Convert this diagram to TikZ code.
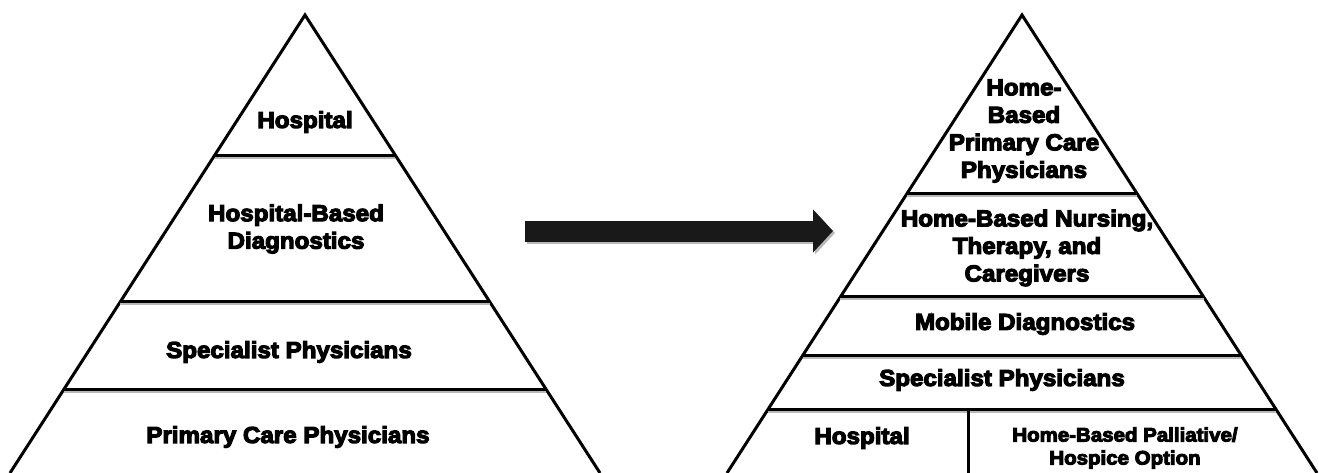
\documentclass[tikz,border=0pt]{standalone}
\usepackage{fontspec}
\setmainfont{Liberation Sans}[BoldFeatures={FakeBold=5,FakeStretch=1.05}]
\usetikzlibrary{calc,arrows.meta}

\begin{document}
\begin{tikzpicture}[x=1pt, y=-1pt,
        side/.style={draw, line width=3pt, line join=miter, miter limit=20},
        divider/.style={draw, line width=3pt,
            preaction={draw, gray!55, line width=3pt, transform canvas={yshift=-2pt}}},
        level/.style={font=\bfseries\fontsize{23}{27.5}\selectfont, align=center, inner sep=0pt},
        smalllevel/.style={font=\bfseries\fontsize{19.5}{23}\selectfont, align=center, inner sep=0pt}
    ]
        \useasboundingbox (0,0) rectangle (1319,473);

        % Left pyramid
        \coordinate (lA) at (305,15);
        \coordinate (lL) at (10,473);
        \coordinate (lR) at (600,473);
        \draw[side] (lL) -- (lA) -- (lR);
        \foreach \t in {0.3057,0.6266,0.8166}
            \draw[divider] ($(lA)!\t!(lL)$) -- ($(lA)!\t!(lR)$);

        \node[level] (lhosp) at (305,122) {Hospital};
        \node[level] (ldiag) at (296,229) {Hospital-Based\\Diagnostics};
        \node[level] (lspec) at (289,352) {Specialist Physicians};
        \node[level] (lprim) at (288,437) {Primary Care Physicians};

        % Arrow
        \coordinate (aS) at (525,231);
        \coordinate (aE) at (833,231);
        \draw[gray!55, line width=21pt, -{Triangle[length=20pt,width=42pt]}]
            ([shift={(2,2)}]aS) -- ([shift={(2,2)}]aE);
        \draw[black!90, line width=21pt, -{Triangle[length=20pt,width=42pt]}] (aS) -- (aE);

        % Right pyramid
        \coordinate (rA) at (1022,15);
        \coordinate (rL) at (727,473);
        \coordinate (rR) at (1317,473);
        \draw[side] (rL) -- (rA) -- (rR);
        \foreach \t in {0.3908,0.6157,0.7424,0.8624}
            \draw[divider] ($(rA)!\t!(rL)$) -- ($(rA)!\t!(rR)$);
        \coordinate (vT) at (968,410);
        \coordinate (vB) at (968,473);
        \draw[line width=3pt] (vT) -- (vB);

        \node[level] (rprim) at (1024,131) {Home-\\Based\\Primary Care\\Physicians};
        \node[level] (rnurs) at (1027,248) {Home-Based Nursing,\\Therapy, and\\Caregivers};
        \node[level] (rdiag) at (1025,324) {Mobile Diagnostics};
        \node[level] (rspec) at (1002,380) {Specialist Physicians};
        \node[level] (rhosp) at (862,438) {Hospital};
        \node[smalllevel] (rpall) at (1125,448) {Home-Based Palliative/\\Hospice Option};
    \end{tikzpicture}
\end{document}
